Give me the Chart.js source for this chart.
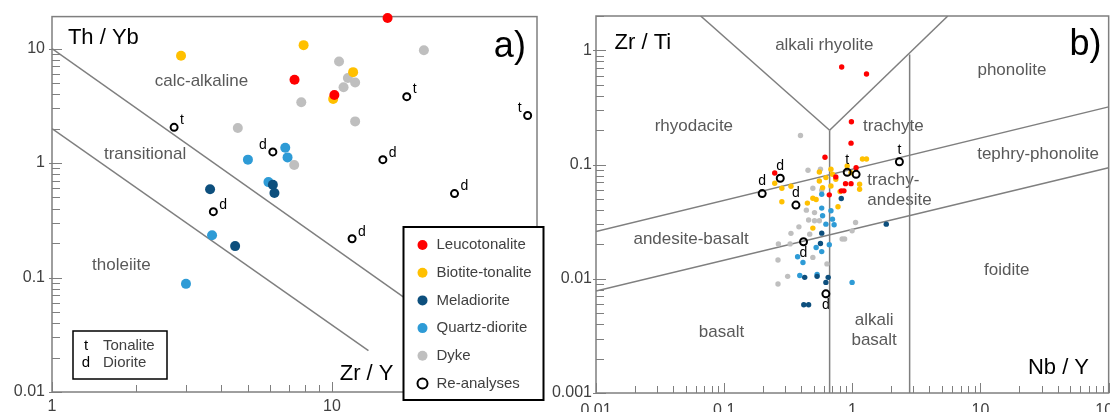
<!DOCTYPE html>
<html>
<head>
<meta charset="utf-8">
<script src="https://cdn.jsdelivr.net/npm/chart.js@4.4.1/dist/chart.umd.min.js"></script>
<style>
  html, body { margin: 0; padding: 0; background: #fff; overflow: hidden; width: 1110px; height: 412px; }
  #wrapA { position: absolute; left: 0; top: 0; width: 545px; height: 412px; }
  #wrapB { position: absolute; left: 545px; top: 0; width: 585px; height: 412px; }
</style>
</head>
<body>
<div id="wrapA"><canvas id="chartA" width="545" height="412"></canvas></div>
<div id="wrapB"><canvas id="chartB" width="585" height="412"></canvas></div>
<script>
// ---------- a) Th/Yb vs Zr/Y ----------
const zrY_leuco = [7.35, 10.2, 15.8];
const thYb_leuco = [5.33, 3.92, 18.5];
const zrY_bio = [2.89, 7.92, 11.9, 10.1];
const thYb_bio = [8.66, 10.7, 6.22, 3.62];
const zrY_mela = [3.67, 6.15, 6.23, 4.51];
const thYb_mela = [0.589, 0.647, 0.548, 0.188];
const zrY_qd = [6.81, 6.94, 5.01, 5.93, 3.73, 3.01];
const thYb_qd = [1.36, 1.12, 1.07, 0.681, 0.234, 0.088];
const zrY_dyke = [10.6, 11.4, 12.1, 11.0, 7.77, 12.1, 4.61, 7.33, 21.3];
const thYb_dyke = [7.69, 5.52, 5.04, 4.59, 3.39, 2.31, 2.02, 0.962, 9.67];
const zrY_re = [2.73, 6.15, 18.5, 50.0, 15.2, 27.4, 3.77, 11.8];
const thYb_re = [2.05, 1.25, 3.80, 2.60, 1.07, 0.541, 0.376, 0.218];
const tagsA = ['t', 'd', 't', 't', 'd', 'd', 'd', 'd'];

// field boundaries (end points)
const lineA1_x = [1, 30], lineA1_y = [10, 0.028];
const lineA2_x = [1, 13.5], lineA2_y = [2, 0.023];

const xTicksA = [1, 10], xTickLabelsA = ['1', '10'];
const yTicksA = [0.01, 0.1, 1, 10], yTickLabelsA = ['0.01', '0.1', '1', '10'];

// ---------- b) Zr/Ti vs Nb/Y ----------
const nbY_leuco = [0.826, 1.29, 0.984, 0.977, 0.612, 1.07, 0.248, 0.743, 0.885, 0.977, 0.820, 0.860, 0.661];
const zrTi_leuco = [0.715, 0.621, 0.237, 0.154, 0.116, 0.094, 0.0845, 0.078, 0.0681, 0.0681, 0.0589, 0.0589, 0.0543];
const nbY_bio = [1.20, 1.29, 0.248, 0.282, 0.332, 0.282, 0.446, 0.492, 0.522, 0.553, 0.622, 0.681, 0.700, 0.743, 0.553, 0.586, 0.681, 0.802, 0.912, 0.977, 1.14, 1.14, 0.773, 0.492];
const zrTi_bio = [0.112, 0.112, 0.0687, 0.0621, 0.0646, 0.0472, 0.0460, 0.0508, 0.0494, 0.0861, 0.0769, 0.0910, 0.0822, 0.0744, 0.0719, 0.0628, 0.0650, 0.0580, 0.0972, 0.0850, 0.0673, 0.0609, 0.0427, 0.0278];
const nbY_mela = [1.84, 0.418, 0.456, 0.820, 0.577, 0.564, 0.425, 0.531, 0.622, 0.648];
const zrTi_mela = [0.0301, 0.00592, 0.00592, 0.0504, 0.0251, 0.0204, 0.0103, 0.0105, 0.0093, 0.0103];
const nbY_qd = [0.996, 0.577, 0.681, 0.586, 0.700, 0.622, 0.721, 0.661, 0.522, 0.577, 0.374, 0.412, 0.389, 0.531, 0.577];
const zrTi_qd = [0.0093, 0.0416, 0.0394, 0.0356, 0.0333, 0.0301, 0.0297, 0.0199, 0.0188, 0.0173, 0.0156, 0.0139, 0.0107, 0.0109, 0.055];
const nbY_dyke = [0.394, 0.451, 0.564, 0.492, 0.577, 0.438, 0.507, 0.456, 0.507, 0.553, 0.383, 0.332, 0.465, 0.996, 0.265, 0.327, 0.263, 0.492, 0.634, 0.313, 0.263, 0.833, 1.06, 0.871];
const zrTi_dyke = [0.180, 0.0891, 0.0910, 0.0621, 0.0597, 0.0399, 0.0380, 0.0327, 0.0322, 0.0322, 0.0285, 0.0250, 0.0246, 0.0263, 0.0202, 0.0202, 0.0146, 0.0154, 0.0135, 0.0105, 0.0090, 0.0223, 0.0311, 0.0223];
const nbY_re = [2.33, 0.912, 1.07, 0.274, 0.198, 0.363, 0.416, 0.622];
const zrTi_re = [0.106, 0.0857, 0.0822, 0.0759, 0.0557, 0.0442, 0.0211, 0.00738];
const tagsB = ['t', 't', '', 'd', 'd', 'd', 'd', 'd'];

const lineB_vLeft_x = [0.0656, 0.665], lineB_vLeft_y = [2, 0.2];
const lineB_vRight_x = [0.665, 5.56], lineB_vRight_y = [0.2, 2];
const lineB_stem1_x = [0.665, 0.665], lineB_stem1_y = [0.001, 0.2];
const lineB_stem2_x = [2.8, 2.8], lineB_stem2_y = [0.001, 0.92];
const lineB_up_x = [0.01, 100], lineB_up_y = [0.026, 0.32];
const lineB_low_x = [0.01, 100], lineB_low_y = [0.0078, 0.094];

const xTicksB = [0.01, 0.1, 1, 10, 100], xTickLabelsB = ['0.01', '0.1', '1', '10', '100'];
const yTicksB = [0.001, 0.01, 0.1, 1], yTickLabelsB = ['0.001', '0.01', '0.1', '1'];

// ---------- styling ----------
const FONT = '"Liberation Sans", Arial, sans-serif';
const C_RED = '#FF0000', C_ORANGE = '#FFC000', C_DARK = '#0D4F7D', C_BLUE = '#2E9BD6', C_GREY = '#BFBFBF';
const C_LINE = '#7F7F7F', C_FIELD = '#595959';

const pts = (xs, ys) => xs.map((x, i) => ({ x: x, y: ys[i] }));

function dots(label, xs, ys, color, r) {
  return { label: label, data: pts(xs, ys), backgroundColor: color, borderColor: color,
    borderWidth: 0, pointRadius: r, pointHoverRadius: r, clip: false };
}
function rings(xs, ys, r) {
  return { label: 'Re-analyses', data: pts(xs, ys), backgroundColor: 'rgba(255,255,255,0)',
    borderColor: '#000', borderWidth: 2, pointRadius: r, pointHoverRadius: r, clip: false };
}
function boundary(xs, ys) {
  return { label: '', data: pts(xs, ys), showLine: true, borderColor: C_LINE, borderWidth: 1.5,
    pointRadius: 0, pointHoverRadius: 0, fill: false };
}

function logSteps(min, max) {
  const out = [];
  for (let k = Math.floor(Math.log10(min)); k <= Math.ceil(Math.log10(max)); k++) {
    for (let m = 1; m <= 9; m++) {
      const v = m * Math.pow(10, k);
      if (v >= min * 0.999 && v <= max * 1.001) out.push({ v: v, major: m === 1 });
    }
  }
  return out;
}

function drawText(ctx, text, x, y, font, color, align) {
  ctx.font = font; ctx.fillStyle = color; ctx.textAlign = align || 'center'; ctx.textBaseline = 'middle';
  ctx.fillText(text, x, y);
}

const diagramPlugin = {
  id: 'diagram',
  beforeDatasetsDraw(chart, args, opts) {
    const ctx = chart.ctx, a = chart.chartArea, sx = chart.scales.x, sy = chart.scales.y;
    ctx.save();
    // inward tick marks
    ctx.strokeStyle = C_LINE; ctx.lineWidth = 1;
    logSteps(sx.min, sx.max).forEach(s => {
      const p = Math.round(sx.getPixelForValue(s.v)) + 0.5;
      ctx.beginPath(); ctx.moveTo(p, a.bottom); ctx.lineTo(p, a.bottom - (s.major ? 10 : 7)); ctx.stroke();
    });
    logSteps(sy.min, sy.max).forEach(s => {
      const p = Math.round(sy.getPixelForValue(s.v)) + 0.5;
      ctx.beginPath(); ctx.moveTo(a.left - (s.major ? 3 : 0), p); ctx.lineTo(a.left + (s.major ? 10 : 8), p); ctx.stroke();
    });
    // frame
    ctx.lineWidth = 1.5;
    ctx.strokeRect(a.left, a.top, a.right - a.left, a.bottom - a.top);
    // field names and axis names
    opts.labels.forEach(l => {
      drawText(ctx, l.text, sx.getPixelForValue(l.at[0]), sy.getPixelForValue(l.at[1]),
        l.font || ('17px ' + FONT), l.color || C_FIELD, l.align);
    });
    ctx.restore();
  },
  afterDraw(chart, args, opts) {
    const ctx = chart.ctx;
    ctx.save();
    // t / d tags next to re-analysed samples
    const meta = chart.getDatasetMeta(0);
    meta.data.forEach((el, i) => {
      const tag = opts.tags[i];
      if (!tag) return;
      const side = opts.tagSide[i];
      const f = '14px ' + FONT;
      if (side === 'r') drawText(ctx, tag, el.x + 6, el.y - 7, f, '#000', 'left');
      else if (side === 'l') drawText(ctx, tag, el.x - 6, el.y - 7, f, '#000', 'right');
      else if (side === 'a') drawText(ctx, tag, el.x, el.y - 12, f, '#000', 'center');
      else drawText(ctx, tag, el.x, el.y + 11, f, '#000', 'center');
    });
    if (opts.legend) {
      // rock-type legend
      ctx.fillStyle = '#fff'; ctx.fillRect(403.5, 227, 140, 173);
      ctx.strokeStyle = '#000'; ctx.lineWidth = 2; ctx.strokeRect(403.5, 227, 140, 173);
      const order = [1, 2, 3, 4, 5, 0];
      order.forEach((di, k) => {
        const ds = chart.data.datasets[di];
        const y = 245 + k * 27.7;
        ctx.beginPath(); ctx.arc(422.5, y, 5, 0, Math.PI * 2);
        if (di === 0) { ctx.strokeStyle = '#000'; ctx.lineWidth = 2; ctx.stroke(); }
        else { ctx.fillStyle = ds.backgroundColor; ctx.fill(); }
        drawText(ctx, ds.label, 436.5, y, '15px ' + FONT, '#404040', 'left');
      });
      // tag key
      ctx.fillStyle = '#fff'; ctx.fillRect(73, 331, 94, 48);
      ctx.strokeStyle = '#000'; ctx.lineWidth = 1.5; ctx.strokeRect(73, 331, 94, 48);
      drawText(ctx, 't', 86, 346, '15px ' + FONT, '#000', 'center');
      drawText(ctx, 'Tonalite', 103, 346, '15px ' + FONT, '#404040', 'left');
      drawText(ctx, 'd', 86, 363, '15px ' + FONT, '#000', 'center');
      drawText(ctx, 'Diorite', 103, 363, '15px ' + FONT, '#404040', 'left');
    }
    ctx.restore();
  }
};

function logAxis(min, max, ticks, labels, size, pad) {
  return {
    type: 'logarithmic', min: min, max: max,
    grid: { display: false, drawTicks: false },
    border: { display: false },
    afterBuildTicks: axis => { axis.ticks = ticks.map(v => ({ value: v })); },
    afterFit: axis => {
      if (axis.isHorizontal()) axis.height = size; else axis.width = size;
    },
    ticks: {
      autoSkip: false, maxRotation: 0, padding: pad,
      color: '#404040', font: { family: FONT, size: 16 },
      callback: v => { const i = ticks.indexOf(v); return i < 0 ? '' : labels[i]; }
    }
  };
}

function baseOptions(padding, xAxis, yAxis, plug) {
  return {
    responsive: false, animation: false, devicePixelRatio: 1,
    layout: { padding: padding },
    scales: { x: xAxis, y: yAxis },
    plugins: { legend: { display: false }, tooltip: { enabled: false }, diagram: plug },
    events: []
  };
}

new Chart(document.getElementById('chartA'), {
  type: 'scatter',
  data: {
    datasets: [
      rings(zrY_re, thYb_re, 3.5),
      dots('Leucotonalite', zrY_leuco, thYb_leuco, C_RED, 5),
      dots('Biotite-tonalite', zrY_bio, thYb_bio, C_ORANGE, 5),
      dots('Meladiorite', zrY_mela, thYb_mela, C_DARK, 5),
      dots('Quartz-diorite', zrY_qd, thYb_qd, C_BLUE, 5),
      dots('Dyke', zrY_dyke, thYb_dyke, C_GREY, 5),
      boundary(lineA1_x, lineA1_y),
      boundary(lineA2_x, lineA2_y)
    ]
  },
  options: baseOptions({ left: 0, top: 14, right: 8, bottom: 0 },
    logAxis(1, 54, xTicksA, xTickLabelsA, 20, 5),
    logAxis(0.01, 19, yTicksA, yTickLabelsA, 52, 7),
    {
      tags: tagsA,
      tagSide: ['r', 'l', 'r', 'l', 'r', 'r', 'r', 'r'],
      legend: true,
      labels: [
        { text: 'calc-alkaline', at: [3.42, 5.19] },
        { text: 'transitional', at: [2.15, 1.19] },
        { text: 'tholeiite', at: [1.77, 0.129] },
        { text: 'Th / Yb', at: [1.14, 12.3], font: '22px ' + FONT, color: '#000', align: 'left' },
        { text: 'Zr / Y', at: [13.3, 0.0144], font: '22px ' + FONT, color: '#000' },
        { text: 'a)', at: [43.2, 10.2], font: '36px ' + FONT, color: '#000' }
      ]
    }),
  plugins: [diagramPlugin]
});

new Chart(document.getElementById('chartB'), {
  type: 'scatter',
  data: {
    datasets: [
      rings(nbY_re, zrTi_re, 3.5),
      dots('Leucotonalite', nbY_leuco, zrTi_leuco, C_RED, 2.7),
      dots('Biotite-tonalite', nbY_bio, zrTi_bio, C_ORANGE, 2.7),
      dots('Meladiorite', nbY_mela, zrTi_mela, C_DARK, 2.7),
      dots('Quartz-diorite', nbY_qd, zrTi_qd, C_BLUE, 2.7),
      dots('Dyke', nbY_dyke, zrTi_dyke, C_GREY, 2.7),
      boundary(lineB_vLeft_x, lineB_vLeft_y),
      boundary(lineB_vRight_x, lineB_vRight_y),
      boundary(lineB_stem1_x, lineB_stem1_y),
      boundary(lineB_stem2_x, lineB_stem2_y),
      boundary(lineB_up_x, lineB_up_y),
      boundary(lineB_low_x, lineB_low_y)
    ]
  },
  options: baseOptions({ left: 0, top: 16, right: 11, bottom: 0 },
    logAxis(0.01, 100, xTicksB, xTickLabelsB, 19, 8),
    logAxis(0.001, 2, yTicksB, yTickLabelsB, 51, 4),
    {
      tags: tagsB,
      tagSide: ['a', 'a', 'a', 'a', 'a', 'a', 'b', 'b'],
      legend: false,
      labels: [
        { text: 'Zr / Ti', at: [0.01396, 1.16], font: '22px ' + FONT, color: '#000', align: 'left' },
        { text: 'alkali rhyolite', at: [0.604, 1.11] },
        { text: 'phonolite', at: [17.6, 0.664] },
        { text: 'rhyodacite', at: [0.058, 0.215] },
        { text: 'trachyte', at: [2.09, 0.218] },
        { text: 'tephry-phonolite', at: [9.42, 0.124], align: 'left' },
        { text: 'trachy-', at: [1.31, 0.0733], align: 'left' },
        { text: 'andesite', at: [1.31, 0.049], align: 'left' },
        { text: 'andesite-basalt', at: [0.0552, 0.0222] },
        { text: 'basalt', at: [0.0953, 0.00337] },
        { text: 'alkali', at: [1.48, 0.00436] },
        { text: 'basalt', at: [1.48, 0.00291] },
        { text: 'foidite', at: [16.0, 0.0119] },
        { text: 'Nb / Y', at: [40.6, 0.00166], font: '22px ' + FONT, color: '#000' },
        { text: 'b)', at: [66, 1.11], font: '36px ' + FONT, color: '#000' }
      ]
    }),
  plugins: [diagramPlugin]
});
</script>
</body>
</html>
